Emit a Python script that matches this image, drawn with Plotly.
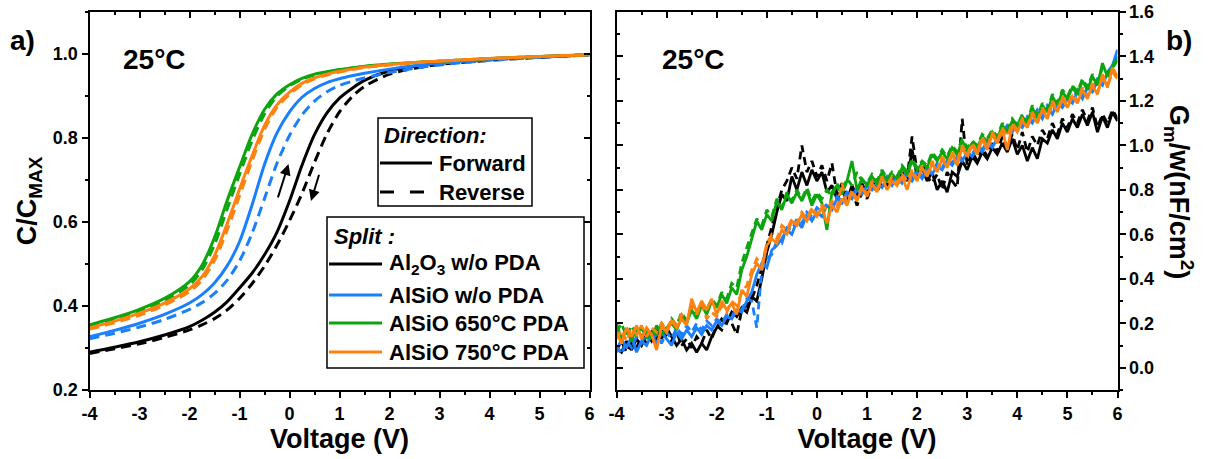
import plotly.graph_objects as go

# ---------------- data: panel a) normalized C-V ----------------
V_CV = [-4, -3.5, -3, -2.5, -2, -1.75, -1.5, -1.25, -1, -0.75, -0.5, -0.25, 0,
        0.25, 0.5, 0.75, 1, 1.25, 1.5, 2, 2.5, 3, 4, 5, 6]

cv_al2o3_fwd = [0.290, 0.302, 0.315, 0.331, 0.351, 0.366, 0.385, 0.410, 0.443, 0.478, 0.522, 0.576, 0.650,
                0.735, 0.808, 0.860, 0.895, 0.918, 0.937, 0.960, 0.971, 0.978, 0.987, 0.993, 0.998]
cv_al2o3_rev = [0.287, 0.298, 0.310, 0.325, 0.343, 0.355, 0.370, 0.390, 0.418, 0.453, 0.495, 0.545, 0.603,
                0.668, 0.742, 0.810, 0.862, 0.898, 0.923, 0.952, 0.966, 0.975, 0.985, 0.992, 0.998]
cv_alsio_fwd = [0.327, 0.342, 0.359, 0.380, 0.407, 0.427, 0.455, 0.495, 0.553, 0.640, 0.737, 0.812, 0.862,
                0.897, 0.918, 0.932, 0.941, 0.948, 0.954, 0.964, 0.972, 0.978, 0.987, 0.993, 0.998]
cv_alsio_rev = [0.322, 0.335, 0.350, 0.368, 0.392, 0.408, 0.430, 0.461, 0.507, 0.573, 0.656, 0.740, 0.806,
                0.855, 0.888, 0.910, 0.925, 0.935, 0.943, 0.956, 0.966, 0.974, 0.985, 0.992, 0.998]
cv_650_fwd = [0.355, 0.372, 0.392, 0.418, 0.458, 0.497, 0.563, 0.650, 0.730, 0.808, 0.868, 0.905, 0.927,
              0.942, 0.952, 0.958, 0.963, 0.967, 0.971, 0.976, 0.980, 0.983, 0.989, 0.994, 0.998]
cv_650_rev = [0.352, 0.368, 0.388, 0.413, 0.450, 0.486, 0.546, 0.630, 0.713, 0.793, 0.857, 0.900, 0.924,
              0.940, 0.950, 0.957, 0.962, 0.966, 0.970, 0.975, 0.979, 0.983, 0.989, 0.994, 0.998]
cv_750_fwd = [0.348, 0.364, 0.383, 0.407, 0.441, 0.470, 0.520, 0.595, 0.678, 0.757, 0.830, 0.879, 0.909,
              0.930, 0.943, 0.952, 0.959, 0.964, 0.969, 0.975, 0.980, 0.983, 0.989, 0.994, 0.998]
cv_750_rev = [0.345, 0.360, 0.378, 0.402, 0.434, 0.462, 0.508, 0.580, 0.662, 0.745, 0.820, 0.873, 0.904,
              0.927, 0.941, 0.950, 0.957, 0.963, 0.968, 0.974, 0.979, 0.983, 0.989, 0.994, 0.998]

# ---------------- data: panel b) Gm/w, sampled every 0.1 V from -4 to 6 V ----------------
V_G = [round(-4 + 0.1 * i, 1) for i in range(101)]

gm_al2o3_fwd = [0.09, 0.07, 0.12, 0.08, 0.13, 0.10, 0.15, 0.12, 0.17, 0.13,
                0.18, 0.14, 0.10, 0.13, 0.08, 0.11, 0.07, 0.11, 0.08, 0.14,
                0.18, 0.22, 0.20, 0.25, 0.23, 0.27, 0.25, 0.32, 0.30, 0.40,
                0.52, 0.60, 0.70, 0.78, 0.75, 0.86, 0.80, 0.88, 0.82, 0.89,
                0.84, 0.88, 0.79, 0.82, 0.76, 0.80, 0.75, 0.82, 0.77, 0.83,
                0.78, 0.84, 0.80, 0.86, 0.82, 0.87, 0.83, 0.88, 0.84, 0.98,
                0.86, 0.90, 0.84, 0.88, 0.80, 0.84, 0.79, 0.88, 0.86, 0.93,
                0.89, 0.95, 0.92, 0.97, 0.94, 0.99, 0.96, 1.01, 0.97, 1.03,
                0.96, 1.00, 0.93, 0.99, 0.94, 1.03, 1.01, 1.07, 1.03, 1.10,
                1.06, 1.12, 1.08, 1.14, 1.09, 1.15, 1.06, 1.13, 1.08, 1.15,
                1.11]
gm_al2o3_rev = [0.08, 0.12, 0.07, 0.11, 0.09, 0.14, 0.11, 0.16, 0.13, 0.17,
                0.14, 0.12, 0.16, 0.10, 0.13, 0.09, 0.14, 0.11, 0.17, 0.13,
                0.19, 0.17, 0.22, 0.20, 0.15, 0.26, 0.28, 0.31, 0.37, 0.45,
                0.55, 0.64, 0.72, 0.80, 0.84, 0.90, 0.85, 1.00, 0.88, 0.93,
                0.86, 0.91, 0.84, 0.92, 0.78, 0.83, 0.77, 0.80, 0.73, 0.79,
                0.76, 0.82, 0.79, 0.84, 0.81, 0.85, 0.82, 0.87, 0.85, 1.04,
                0.88, 0.92, 0.86, 0.83, 0.87, 0.80, 0.88, 0.84, 0.81, 1.12,
                0.91, 0.97, 0.93, 0.99, 0.95, 1.01, 0.97, 1.04, 0.99, 1.05,
                0.98, 1.06, 0.97, 1.04, 1.00, 1.07, 1.03, 1.10, 1.05, 1.12,
                1.08, 1.14, 1.10, 1.16, 1.11, 1.17, 1.08, 1.14, 1.10, 1.16,
                1.12]
gm_alsio_fwd = [0.07, 0.13, 0.09, 0.14, 0.07, 0.12, 0.10, 0.15, 0.11, 0.16,
                0.13, 0.10, 0.16, 0.13, 0.17, 0.14, 0.18, 0.15, 0.19, 0.17,
                0.21, 0.19, 0.23, 0.22, 0.26, 0.25, 0.30, 0.34, 0.42, 0.47,
                0.45, 0.53, 0.55, 0.58, 0.62, 0.60, 0.66, 0.63, 0.69, 0.66,
                0.70, 0.68, 0.73, 0.71, 0.76, 0.74, 0.78, 0.76, 0.80, 0.78,
                0.82, 0.80, 0.83, 0.81, 0.85, 0.82, 0.86, 0.83, 0.87, 0.84,
                0.88, 0.85, 0.89, 0.87, 0.91, 0.89, 0.93, 0.91, 0.95, 0.93,
                0.97, 0.95, 0.99, 0.97, 1.01, 0.99, 1.03, 1.05, 1.08, 1.06,
                1.10, 1.08, 1.12, 1.10, 1.15, 1.12, 1.17, 1.14, 1.19, 1.17,
                1.21, 1.19, 1.24, 1.21, 1.26, 1.24, 1.29, 1.27, 1.33, 1.36,
                1.43]
gm_alsio_rev = [0.10, 0.06, 0.12, 0.09, 0.14, 0.11, 0.16, 0.12, 0.15, 0.11,
                0.16, 0.13, 0.18, 0.15, 0.19, 0.16, 0.20, 0.17, 0.21, 0.19,
                0.22, 0.20, 0.24, 0.23, 0.27, 0.26, 0.31, 0.30, 0.18, 0.44,
                0.49, 0.51, 0.57, 0.56, 0.63, 0.62, 0.67, 0.65, 0.70, 0.68,
                0.72, 0.70, 0.74, 0.72, 0.77, 0.75, 0.79, 0.77, 0.81, 0.79,
                0.83, 0.81, 0.84, 0.82, 0.86, 0.83, 0.87, 0.84, 0.88, 0.85,
                0.89, 0.86, 0.90, 0.88, 0.92, 0.90, 0.94, 0.92, 0.96, 0.94,
                0.98, 0.96, 1.00, 0.98, 1.02, 1.00, 1.04, 1.06, 1.09, 1.07,
                1.11, 1.09, 1.13, 1.11, 1.16, 1.13, 1.18, 1.15, 1.20, 1.18,
                1.22, 1.20, 1.25, 1.22, 1.27, 1.25, 1.30, 1.28, 1.32, 1.35,
                1.40]
gm_650_fwd = [0.20, 0.13, 0.17, 0.12, 0.18, 0.14, 0.17, 0.13, 0.19, 0.15,
              0.18, 0.20, 0.17, 0.23, 0.20, 0.26, 0.22, 0.28, 0.24, 0.30,
              0.27, 0.33, 0.29, 0.36, 0.33, 0.44, 0.50, 0.58, 0.66, 0.62,
              0.69, 0.66, 0.75, 0.71, 0.78, 0.74, 0.79, 0.75, 0.80, 0.73,
              0.78, 0.74, 0.62, 0.79, 0.82, 0.78, 0.84, 0.93, 0.80, 0.85,
              0.82, 0.86, 0.83, 0.88, 0.84, 0.87, 0.85, 0.90, 0.87, 0.93,
              0.89, 0.92, 0.90, 0.96, 0.93, 0.97, 0.94, 0.99, 0.96, 1.02,
              0.98, 1.01, 0.99, 1.04, 1.02, 1.06, 1.03, 1.09, 1.06, 1.11,
              1.08, 1.13, 1.10, 1.17, 1.12, 1.18, 1.15, 1.22, 1.18, 1.24,
              1.21, 1.26, 1.23, 1.29, 1.25, 1.31, 1.27, 1.37, 1.31, 1.35,
              1.38]
gm_650_rev = [0.16, 0.20, 0.14, 0.19, 0.15, 0.18, 0.13, 0.17, 0.15, 0.20,
              0.17, 0.22, 0.19, 0.25, 0.21, 0.27, 0.24, 0.29, 0.26, 0.31,
              0.28, 0.34, 0.31, 0.38, 0.36, 0.47, 0.54, 0.61, 0.67, 0.64,
              0.71, 0.68, 0.76, 0.72, 0.79, 0.75, 0.80, 0.76, 0.81, 0.75,
              0.79, 0.76, 0.80, 0.77, 0.83, 0.79, 0.85, 0.82, 0.88, 0.84,
              0.83, 0.87, 0.84, 0.89, 0.85, 0.88, 0.86, 0.91, 0.88, 0.94,
              0.90, 0.93, 0.91, 0.97, 0.94, 0.98, 0.95, 1.00, 0.97, 1.03,
              0.99, 1.02, 1.00, 1.05, 1.03, 1.07, 1.04, 1.10, 1.07, 1.12,
              1.09, 1.14, 1.11, 1.18, 1.13, 1.19, 1.16, 1.23, 1.19, 1.25,
              1.22, 1.27, 1.24, 1.30, 1.26, 1.32, 1.28, 1.35, 1.32, 1.36,
              1.39]
gm_750_fwd = [0.16, 0.11, 0.18, 0.14, 0.19, 0.13, 0.18, 0.15, 0.08, 0.19,
              0.16, 0.21, 0.18, 0.22, 0.19, 0.31, 0.25, 0.30, 0.26, 0.31,
              0.24, 0.30, 0.26, 0.29, 0.24, 0.35, 0.32, 0.42, 0.47, 0.44,
              0.55, 0.58, 0.56, 0.62, 0.60, 0.66, 0.64, 0.69, 0.66, 0.71,
              0.68, 0.72, 0.65, 0.73, 0.70, 0.76, 0.73, 0.79, 0.75, 0.81,
              0.77, 0.83, 0.79, 0.86, 0.80, 0.84, 0.82, 0.86, 0.80, 0.88,
              0.84, 0.90, 0.86, 0.92, 0.88, 0.94, 0.90, 0.96, 0.91, 0.99,
              0.95, 1.00, 0.96, 1.03, 0.98, 1.05, 1.01, 1.07, 0.98, 1.09,
              1.06, 1.11, 1.08, 1.14, 1.10, 1.16, 1.12, 1.19, 1.15, 1.21,
              1.17, 1.22, 1.19, 1.25, 1.21, 1.27, 1.23, 1.32, 1.26, 1.35,
              1.31]
gm_750_rev = [0.13, 0.17, 0.12, 0.18, 0.15, 0.19, 0.14, 0.18, 0.16, 0.20,
              0.17, 0.22, 0.19, 0.24, 0.21, 0.28, 0.24, 0.29, 0.22, 0.25,
              0.23, 0.28, 0.25, 0.30, 0.28, 0.34, 0.37, 0.44, 0.49, 0.46,
              0.56, 0.60, 0.58, 0.64, 0.62, 0.67, 0.65, 0.70, 0.67, 0.72,
              0.69, 0.73, 0.71, 0.75, 0.72, 0.83, 0.74, 0.80, 0.76, 0.82,
              0.78, 0.84, 0.80, 0.85, 0.82, 0.86, 0.83, 0.87, 0.84, 0.89,
              0.85, 0.91, 0.87, 0.93, 0.89, 0.95, 0.91, 0.97, 0.93, 1.00,
              0.96, 1.01, 0.97, 1.04, 0.99, 1.06, 1.02, 1.08, 1.04, 1.10,
              1.07, 1.12, 1.09, 1.15, 1.11, 1.17, 1.13, 1.20, 1.16, 1.22,
              1.18, 1.23, 1.20, 1.26, 1.22, 1.28, 1.24, 1.30, 1.27, 1.33,
              1.30]

X_TICKS = [-4, -3, -2, -1, 0, 1, 2, 3, 4, 5, 6]
X_TICKTEXT = ["-4", "-3", "-2", "-1", "0", "1", "2", "3", "4", "5", "6"]
Y1_TICKS = [0.2, 0.4, 0.6, 0.8, 1.0]
Y1_TICKTEXT = ["0.2", "0.4", "0.6", "0.8", "1.0"]
Y2_TICKS = [0.0, 0.2, 0.4, 0.6, 0.8, 1.0, 1.2, 1.4, 1.6]
Y2_TICKTEXT = ["0.0", "0.2", "0.4", "0.6", "0.8", "1.0", "1.2", "1.4", "1.6"]

SPLITS = ["Al<sub>2</sub>O<sub>3</sub> w/o PDA", "AlSiO w/o PDA", "AlSiO 650°C PDA", "AlSiO 750°C PDA"]
COLORS = ["#000000", "#1A7FFF", "#0DA50D", "#FF8210"]
DIRECTIONS = ["Forward", "Reverse"]

CV = [(cv_al2o3_fwd, cv_al2o3_rev), (cv_alsio_fwd, cv_alsio_rev),
      (cv_650_fwd, cv_650_rev), (cv_750_fwd, cv_750_rev)]
GM = [(gm_al2o3_fwd, gm_al2o3_rev), (gm_alsio_fwd, gm_alsio_rev),
      (gm_650_fwd, gm_650_rev), (gm_750_fwd, gm_750_rev)]

FONT = "Liberation Sans, Arial, sans-serif"
W, H = 1208, 459


def px(x):
    return x / W


def py(y):
    return 1 - y / H


def bold(labels):
    return ["<b>%s</b>" % t for t in labels]


fig = go.Figure()

for (fwd, rev), col, name in zip(CV, COLORS, SPLITS):
    fig.add_trace(go.Scatter(x=V_CV, y=rev, mode="lines",
                             line=dict(color=col, width=3, dash="10px,6px", shape="spline", smoothing=0.8),
                             showlegend=False, xaxis="x", yaxis="y"))
    fig.add_trace(go.Scatter(x=V_CV, y=fwd, mode="lines",
                             line=dict(color=col, width=3, shape="spline", smoothing=0.8),
                             name=name, showlegend=False, xaxis="x", yaxis="y"))

for (fwd, rev), col, name in zip(GM, COLORS, SPLITS):
    fig.add_trace(go.Scatter(x=V_G, y=rev, mode="lines", line=dict(color=col, width=2.8, dash="8px,5px"),
                             showlegend=False, xaxis="x2", yaxis="y2"))
    fig.add_trace(go.Scatter(x=V_G, y=fwd, mode="lines", line=dict(color=col, width=2.8),
                             name=name, showlegend=False, xaxis="x2", yaxis="y2"))

# invisible traces so the mirrored (inward-tick) axes are drawn
fig.add_trace(go.Scatter(x=[None], y=[None], xaxis="x3", yaxis="y3", showlegend=False, hoverinfo="skip"))
fig.add_trace(go.Scatter(x=[None], y=[None], xaxis="x4", yaxis="y4", showlegend=False, hoverinfo="skip"))

XD1 = [px(89.5), px(589.5)]
XD2 = [px(616.5), px(1117.5)]
YD = [py(390), py(12)]

tickfont = dict(family=FONT, size=18, color="black")
common = dict(showline=True, linecolor="black", linewidth=2, showgrid=False, zeroline=False,
              ticks="outside", ticklen=6, tickwidth=2, tickcolor="black", tickfont=tickfont,
              automargin=False)
inner = dict(showline=False, showgrid=False, zeroline=False, ticks="inside", ticklen=6, tickwidth=2,
             tickcolor="black", showticklabels=False, automargin=False)
xminor = dict(ticks="outside", dtick=0.5, ticklen=3, tickwidth=2, tickcolor="black")
xminor_in = dict(ticks="inside", dtick=0.5, ticklen=3, tickwidth=2, tickcolor="black")
yminor = dict(ticks="outside", dtick=0.1, ticklen=3, tickwidth=2, tickcolor="black")
yminor_in = dict(ticks="inside", dtick=0.1, ticklen=3, tickwidth=2, tickcolor="black")
titlefont = dict(family=FONT, size=27, color="black")
xtitle = dict(text="<b>Voltage (V)</b>", font=titlefont, standoff=4)

fig.update_layout(
    width=W, height=H, margin=dict(l=0, r=0, t=0, b=0),
    plot_bgcolor="white", paper_bgcolor="white", showlegend=False,
    font=dict(family=FONT, color="black"),
    xaxis=dict(domain=XD1, range=[-4, 6], tickvals=X_TICKS, ticktext=bold(X_TICKTEXT), anchor="y",
               mirror=True, minor=xminor, title=xtitle, **common),
    yaxis=dict(domain=YD, range=[0.2, 1.1], tickvals=Y1_TICKS, ticktext=bold(Y1_TICKTEXT), anchor="x",
               mirror=True, minor=dict(yminor, tick0=0.2),
               title=dict(text="<b>C/C<sub>MAX</sub></b>", font=titlefont, standoff=8),
               **common),
    xaxis2=dict(domain=XD2, range=[-4, 6], tickvals=X_TICKS, ticktext=bold(X_TICKTEXT), anchor="y2",
                mirror=True, minor=xminor, title=xtitle, **common),
    yaxis2=dict(domain=YD, range=[-0.1, 1.6], tickvals=Y2_TICKS, ticktext=bold(Y2_TICKTEXT), anchor="x2",
                side="right", mirror=True, minor=dict(yminor, tick0=0), **common),
    xaxis3=dict(overlaying="x", side="top", anchor="y", range=[-4, 6], dtick=1, minor=xminor_in, **inner),
    yaxis3=dict(overlaying="y", side="right", anchor="x", range=[0.2, 1.1], tick0=0.2, dtick=0.2,
                minor=dict(yminor_in, tick0=0.2), **inner),
    xaxis4=dict(overlaying="x2", side="top", anchor="y2", range=[-4, 6], dtick=1, minor=xminor_in, **inner),
    yaxis4=dict(overlaying="y2", side="left", anchor="x2", range=[-0.1, 1.6], tick0=0, dtick=0.2,
                minor=dict(yminor_in, tick0=0), **inner),
)

big = dict(family=FONT, size=28, color="black")
leg = dict(family=FONT, size=22, color="black")
ann = []


def label(x, y, text, font, xanchor="center", angle=0):
    ann.append(dict(x=px(x), y=py(y), xref="paper", yref="paper", text=text, showarrow=False,
                    font=font, xanchor=xanchor, yanchor="middle", textangle=angle))


label(22, 41, "<b>a)</b>", big)
label(1179, 41, "<b>b)</b>", big)
label(154, 60, "<b>25°C</b>", big)
label(693, 60, "<b>25°C</b>", big)
label(1179, 192, "<b>G<sub>m</sub>/w(nF/cm<sup>2</sup>)</b>", dict(family=FONT, size=27, color="black"), angle=90)

# hysteresis direction arrows (data coordinates)
ann.append(dict(x=-0.02, y=0.738, ax=-0.24, ay=0.655, xref="x", yref="y", axref="x", ayref="y",
                showarrow=True, arrowhead=2, arrowsize=1.1, arrowwidth=2, arrowcolor="black", text=""))
ann.append(dict(x=0.43, y=0.650, ax=0.60, ay=0.716, xref="x", yref="y", axref="x", ayref="y",
                showarrow=True, arrowhead=2, arrowsize=1.1, arrowwidth=2, arrowcolor="black", text=""))

shapes = []
# Direction legend box
shapes.append(dict(type="rect", xref="paper", yref="paper", x0=px(378), x1=px(532), y0=py(206), y1=py(118),
                   line=dict(color="black", width=1.5), fillcolor="white", layer="above"))
label(382, 135, "<b><i>Direction:</i></b>", leg, xanchor="left")
for i, (d, dash) in enumerate(zip(DIRECTIONS, ["solid", "14px,16px"])):
    yy = 163 + 29 * i
    shapes.append(dict(type="line", xref="paper", yref="paper", x0=px(380), x1=px(432), y0=py(yy), y1=py(yy),
                       line=dict(color="black", width=3, dash=dash), layer="above"))
    label(437, yy, "<b>%s</b>" % d, leg, xanchor="left")

# Split legend box
shapes.append(dict(type="rect", xref="paper", yref="paper", x0=px(327), x1=px(584), y0=py(368), y1=py(217),
                   line=dict(color="black", width=1.5), fillcolor="white", layer="above"))
label(332, 236, "<b><i>Split :</i></b>", leg, xanchor="left")
for i, (name, col) in enumerate(zip(SPLITS, COLORS)):
    yy = [264, 295, 323, 352][i]
    shapes.append(dict(type="line", xref="paper", yref="paper", x0=px(329), x1=px(382), y0=py(yy), y1=py(yy),
                       line=dict(color=col, width=3), layer="above"))
    label(387, yy, "<b>%s</b>" % name, leg, xanchor="left")

fig.update_layout(annotations=ann, shapes=shapes)
fig.write_html("out.html", config={"displayModeBar": False},
               post_script="document.body.style.margin='0px';document.body.style.overflow='hidden';")
